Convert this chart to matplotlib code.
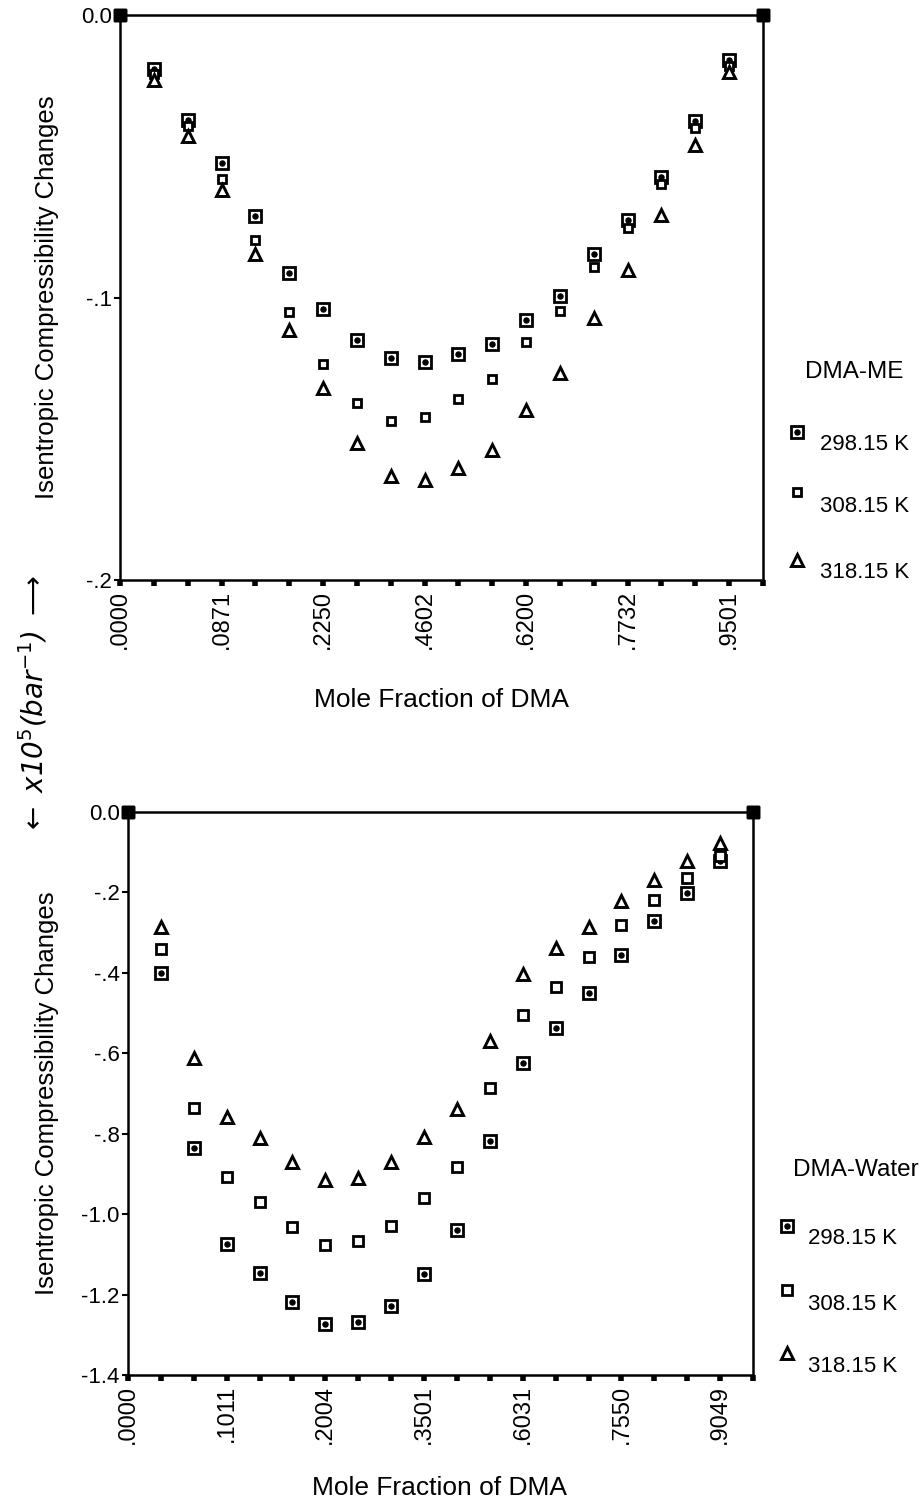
import matplotlib
matplotlib.use("Agg")
import matplotlib.pyplot as plt

plt.rcParams['font.family'] = ['Liberation Sans', 'DejaVu Sans']

# ---------------- data ----------------
# 20 categories (mole fractions); labels shown on every 3rd category
xlabels_a = [".0000", ".0871", ".2250", ".4602", ".6200", ".7732", ".9501"]
xlabels_b = [".0000", ".1011", ".2004", ".3501", ".6031", ".7550", ".9049"]
temps = ["298.15 K", "308.15 K", "318.15 K"]

# (a) DMA-ME, x 10^5 bar^-1
a_298 = [0.0, -0.0190, -0.0370, -0.0524, -0.0712, -0.0915, -0.1040, -0.1150, -0.1213, -0.1227,
         -0.1200, -0.1166, -0.1081, -0.0994, -0.0845, -0.0726, -0.0572, -0.0375, -0.0160, 0.0]
a_308 = [0.0, -0.0210, -0.0393, -0.0579, -0.0796, -0.1053, -0.1236, -0.1372, -0.1437, -0.1423,
         -0.1359, -0.1288, -0.1157, -0.1048, -0.0892, -0.0753, -0.0599, -0.0400, -0.0181, 0.0]
a_318 = [0.0, -0.0230, -0.0430, -0.0621, -0.0845, -0.1115, -0.1322, -0.1514, -0.1631, -0.1645,
         -0.1602, -0.1539, -0.1399, -0.1267, -0.1071, -0.0904, -0.0709, -0.0461, -0.0201, 0.0]

# (b) DMA-Water
b_298 = [0.0, -0.401, -0.835, -1.075, -1.147, -1.219, -1.272, -1.267, -1.229, -1.148,
         -1.039, -0.819, -0.624, -0.536, -0.449, -0.356, -0.272, -0.202, -0.123, 0.0]
b_308 = [0.0, -0.340, -0.735, -0.908, -0.970, -1.032, -1.077, -1.068, -1.030, -0.960,
         -0.883, -0.686, -0.506, -0.434, -0.361, -0.282, -0.218, -0.164, -0.110, 0.0]
b_318 = [0.0, -0.285, -0.612, -0.759, -0.811, -0.871, -0.916, -0.909, -0.871, -0.809,
         -0.738, -0.569, -0.403, -0.339, -0.285, -0.221, -0.169, -0.123, -0.076, 0.0]

yt_a = [0.0, -0.1, -0.2]
ytl_a = ["0.0", "-.1", "-.2"]
yt_b = [0.0, -0.2, -0.4, -0.6, -0.8, -1.0, -1.2, -1.4]
ytl_b = ["0.0", "-.2", "-.4", "-.6", "-.8", "-1.0", "-1.2", "-1.4"]

# ---------------- figure ----------------
W, H = 919, 1505
fig = plt.figure(figsize=(W / 100, H / 100), dpi=100)
fig.patch.set_facecolor("white")


def px_axes(l, t, r, b, **kw):
    return fig.add_axes([l / W, 1 - b / H, (r - l) / W, (b - t) / H], **kw)


ov = px_axes(0, 0, W, H)
ov.set_xlim(0, W)
ov.set_ylim(H, 0)
ov.axis("off")


def mk(ax, xs, ys, kind, big=False, **kw):
    if kind == 0:
        ax.plot(xs, ys, ls="none", marker="s", ms=8.3, mfc="white", mec="black", mew=2.0, **kw)
        ax.plot(xs, ys, ls="none", marker="o", ms=3.8, mfc="black", mec="black", mew=0.8, **kw)
    elif kind == 1:
        s = 7.0 if big else 5.6
        ax.plot(xs, ys, ls="none", marker="s", ms=s, mfc="white", mec="black", mew=2.0, **kw)
    else:
        ax.plot(xs, ys, ls="none", marker="^", ms=8.5, mfc="white", mec="black", mew=2.1, **kw)


def panel(ax, series, ylim, yt, ytl, xlabels, big):
    n = len(series[0])
    xs = list(range(n))
    for k, vals in enumerate(series):
        mk(ax, xs[1:-1], vals[1:-1], k, big=big)
        ax.plot([xs[0], xs[-1]], [vals[0], vals[-1]], ls="none", marker="s", ms=8.5,
                color="black", clip_on=False, zorder=5)
    ax.set_xlim(0, n - 1)
    ax.set_ylim(*ylim)
    for sp in ax.spines.values():
        sp.set_linewidth(1.8)
        sp.set_color("black")
    ax.set_yticks(yt)
    ax.set_yticklabels(ytl)
    ax.set_xticks(xs)
    lab = [""] * n
    for i, t in enumerate(xlabels):
        lab[3 * i] = t
    ax.set_xticklabels(lab, rotation=90)
    ax.tick_params(axis="x", direction="out", length=4, width=4, labelsize=17, pad=3)
    ax.tick_params(axis="y", direction="out", length=4, width=1.5, labelsize=16, pad=2)


panel(ax_a := px_axes(120, 15, 763, 580), [a_298, a_308, a_318], (-0.2, 0.0), yt_a, ytl_a, xlabels_a, False)
panel(ax_b := px_axes(128, 812, 753, 1375), [b_298, b_308, b_318], (-1.4, 0.0), yt_b, ytl_b, xlabels_b, True)

# axis titles
ov.text(441, 700, "Mole Fraction of DMA", fontsize=19, ha="center", va="center")
ov.text(440, 1488, "Mole Fraction of DMA", fontsize=19, ha="center", va="center")
ov.text(47, 297, "Isentropic Compressibility Changes", fontsize=18.5, rotation=90, ha="center", va="center")
ov.text(47, 1093, "Isentropic Compressibility Changes", fontsize=18.5, rotation=90, ha="center", va="center")

# legends
ov.text(805, 372, "DMA-ME", fontsize=17.5, ha="left", va="center")
for k, (my, ty) in enumerate([(432, 445), (492, 507), (560, 572)]):
    mk(ov, [797], [my], k, big=False)
    ov.text(820, ty, temps[k], fontsize=16, ha="left", va="center")

ov.text(793, 1170, "DMA-Water", fontsize=17.5, ha="left", va="center")
for k, (my, ty) in enumerate([(1226, 1238), (1290, 1305), (1353, 1366)]):
    mk(ov, [787], [my], k, big=True)
    ov.text(808, ty, temps[k], fontsize=16, ha="left", va="center")

# handwritten annotations
ov.text(308, 40, "(a)", fontsize=24, style="italic", family="DejaVu Sans", ha="center", va="center")
ov.text(266, 840, "(b)", fontsize=24, style="italic", family="DejaVu Sans", ha="center", va="center")
ov.text(33, 705, r"$\leftarrow$ x10$^{5}$(bar$^{-1}$) $\longrightarrow$", fontsize=20,
        style="italic", family="DejaVu Sans", rotation=90, ha="center", va="center")

fig.savefig("out.png", dpi=100, facecolor="white")
